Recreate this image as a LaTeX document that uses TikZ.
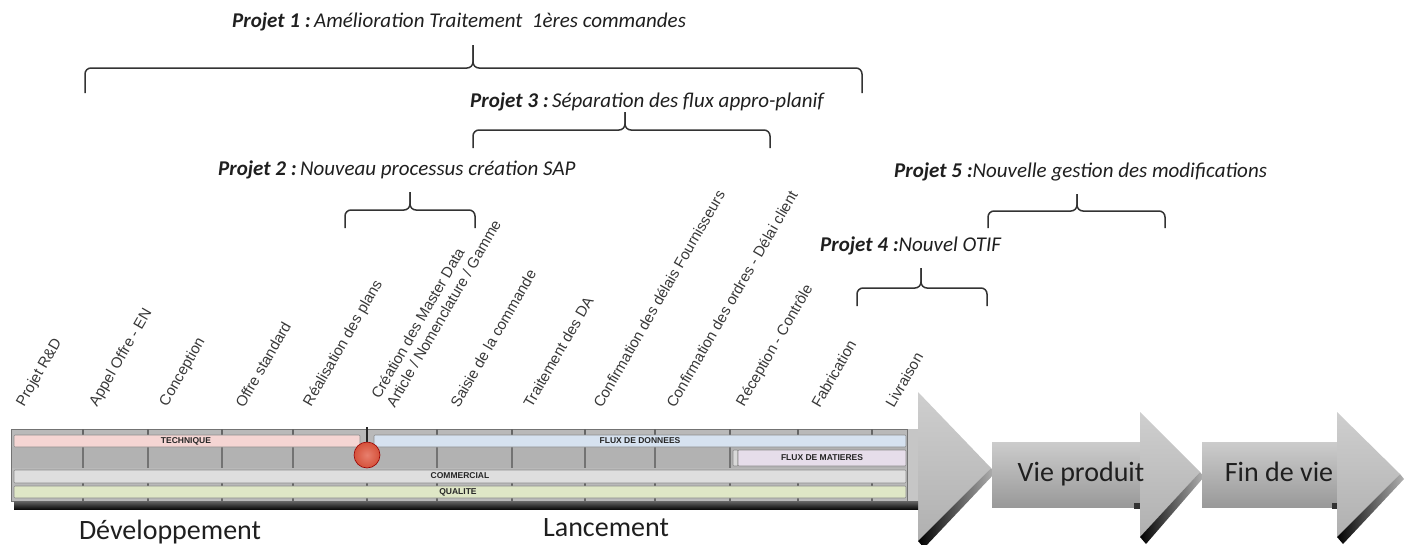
\documentclass[tikz,border=0pt]{standalone}
\usepackage{fontspec}
\setmainfont{Carlito}
\newfontfamily\labfont{Liberation Sans}
\definecolor{pinkband}{HTML}{F5D5D3}
\definecolor{blueband}{HTML}{D6E2F0}
\definecolor{lavband}{HTML}{E6DDEA}
\definecolor{greyband}{HTML}{DEDEDE}
\definecolor{greenband}{HTML}{DFE7C6}
\definecolor{cellgrey}{HTML}{B2B2B2}
\definecolor{redball}{HTML}{E0553D}
\begin{document}
\begin{tikzpicture}[x=1pt,y=-1pt,
  lbl/.style={font=\labfont\fontsize{15}{17.5}\selectfont, text=black!78, rotate=60, anchor=south west, inner sep=0pt, align=left},
  ttl/.style={font=\fontsize{21}{24}\selectfont\itshape, text=black!88, anchor=base west, inner sep=0pt},
  brc/.style={rounded corners=6pt, line width=1.5pt, draw=black!80},
  band/.style={draw=black!45, line width=0.6pt, rounded corners=1pt},
  bandtxt/.style={font=\labfont\bfseries\fontsize{8.5}{9}\selectfont, text=black!85, inner sep=0pt},
  big/.style={font=\fontsize{28}{30}\selectfont, text=black!88, anchor=base, inner sep=0pt},
  tick/.style={draw=black!60, line width=1.2pt},
  divider/.style={draw=black!55, line width=1.6pt}]

\useasboundingbox (0,0) rectangle (1408,544);

% ---------- project titles ----------
\node[ttl] (t1) at (232,27)  {\textbf{Projet 1 :}\,Amélioration Traitement\ \ 1ères commandes};
\node[ttl] (t3) at (470,107) {\textbf{Projet 3 :}\,Séparation des flux appro-planif};
\node[ttl] (t2) at (218,175) {\textbf{Projet 2 :}\,Nouveau processus création SAP};
\node[ttl] (t5) at (894,177) {\textbf{Projet 5 :}Nouvelle gestion des modifications};
\node[ttl] (t4) at (820,251) {\textbf{Projet 4 :}Nouvel OTIF};

% ---------- braces ----------
\newcommand\projbrace[6]{%
  \draw[brc] (#1,#4) -- (#1,#5) -- (#3,#5) -- (#3,#6);
  \draw[brc] (#2,#4) -- (#2,#5) -- (#3,#5) -- (#3,#6);}
\projbrace{85}{862}{473}{93}{68}{45}
\projbrace{473}{770}{625}{148}{130}{112}
\projbrace{345}{475}{410}{228}{210}{192}
\projbrace{988}{1165}{1077}{228}{211}{194}
\projbrace{857}{987}{921}{306}{288}{268}

% ---------- step labels ----------
\node[lbl] (s1)  at (27,409)  {Projet R\&D};
\node[lbl] (s2)  at (100,409) {Appel Offre - EN};
\node[lbl] (s3)  at (170,409) {Conception};
\node[lbl] (s4)  at (244,409) {Offre standard};
\node[lbl] (s5)  at (314,409) {Réalisation des plans};
\node[lbl] (s6)  at (395,409) {Création des Master Data\\Article / Nomenclature / Gamme};
\node[lbl] (s7)  at (459,409) {Saisie de la commande};
\node[lbl] (s8)  at (532,409) {Traitement des DA};
\node[lbl] (s9)  at (602,409) {Confirmation des délais Fournisseurs};
\node[lbl] (s10) at (675,409) {Confirmation des ordres - Délai client};
\node[lbl] (s11) at (747,409) {Réception - Contrôle};
\node[lbl] (s12) at (820,409) {Fabrication};
\node[lbl] (s13) at (894,409) {Livraison};

% ---------- big first arrow (shaft behind bar + head) ----------
\fill[gray!45] (900,429) rectangle (919,501);
\shade[top color=gray!38, bottom color=gray!62] (918,392) -- (991,468) -- (918,541) -- cycle;
\shade[left color=black, right color=gray!60] (991,468) -- (918,541) -- (924,548) -- (995,473) -- cycle;

% ---------- bar ----------
\filldraw[fill=gray!55, draw=black!55, line width=0.8pt] (11,429) rectangle (907,501);
\fill[cellgrey] (12,447) rectangle (906,468);
\foreach \x in {83,148,222,293,367,437,512,585,655,730,798,872}
  \draw[tick] (\x,429) -- (\x,435);
\foreach \x in {83,148,222,293,437,512,585,655,730}
  \draw[divider] (\x,447) -- (\x,468);
\foreach \x in {83,148,222,293,367,437,512,585,655,730,798,872}{
  \draw[tick] (\x,483) -- (\x,486);
  \draw[tick] (\x,498) -- (\x,501);}
\filldraw[band, fill=pinkband]  (14,435) rectangle (360,447);
\filldraw[band, fill=blueband]  (374,435) rectangle (906,447);
\filldraw[band, fill=gray!30]   (733,450) rectangle (738,466);
\filldraw[band, fill=lavband]   (738,450) rectangle (906,466);
\filldraw[band, fill=greyband]  (14,470) rectangle (906,483);
\filldraw[band, fill=greenband] (14,486) rectangle (906,498);
\shade[top color=black!60, bottom color=black!95] (14,501) rectangle (918,509);

\node[bandtxt] (bt1) at (186,441) {TECHNIQUE};
\node[bandtxt] (bt2) at (640,441) {FLUX DE DONNEES};
\node[bandtxt] (bt3) at (822,458) {FLUX DE MATIERES};
\node[bandtxt] (bt4) at (460,476) {COMMERCIAL};
\node[bandtxt] (bt5) at (458,492) {QUALITE};

% red milestone
\coordinate (pintop) at (367,427);
\node[circle, minimum size=26pt, inner sep=0pt, draw=red!60!black, line width=0.6pt,
      inner color=redball!75!white, outer color=redball!95!black] (ball) at (367,455) {};
\draw[line width=1.3pt, black!85] (pintop) -- (ball.north);

% ---------- Vie produit arrow ----------
\shade[top color=gray!40, bottom color=gray!80] (992,442) rectangle (1141,507);
\fill[black!80] (1134,503) rectangle (1142,509);
\shade[top color=gray!38, bottom color=gray!62] (1140,412) -- (1200,472) -- (1140,537) -- cycle;
\shade[left color=black, right color=gray!60] (1200,472) -- (1140,537) -- (1146,544) -- (1204,477) -- cycle;
\node[big] (vp) at (1081,481) {Vie produit};

% ---------- Fin de vie arrow ----------
\shade[top color=gray!40, bottom color=gray!80] (1202,442) rectangle (1339,507);
\fill[black!80] (1332,503) rectangle (1340,509);
\shade[top color=gray!38, bottom color=gray!62] (1337,412) -- (1400,474) -- (1337,537) -- cycle;
\shade[left color=black, right color=gray!60] (1400,474) -- (1337,537) -- (1343,544) -- (1404,479) -- cycle;
\node[big] (fv) at (1279,481) {Fin de vie};

% ---------- phase names ----------
\node[big] (dev) at (170,539) {Développement};
\node[big] (lan) at (606,536) {Lancement};

\end{tikzpicture}
\end{document}
